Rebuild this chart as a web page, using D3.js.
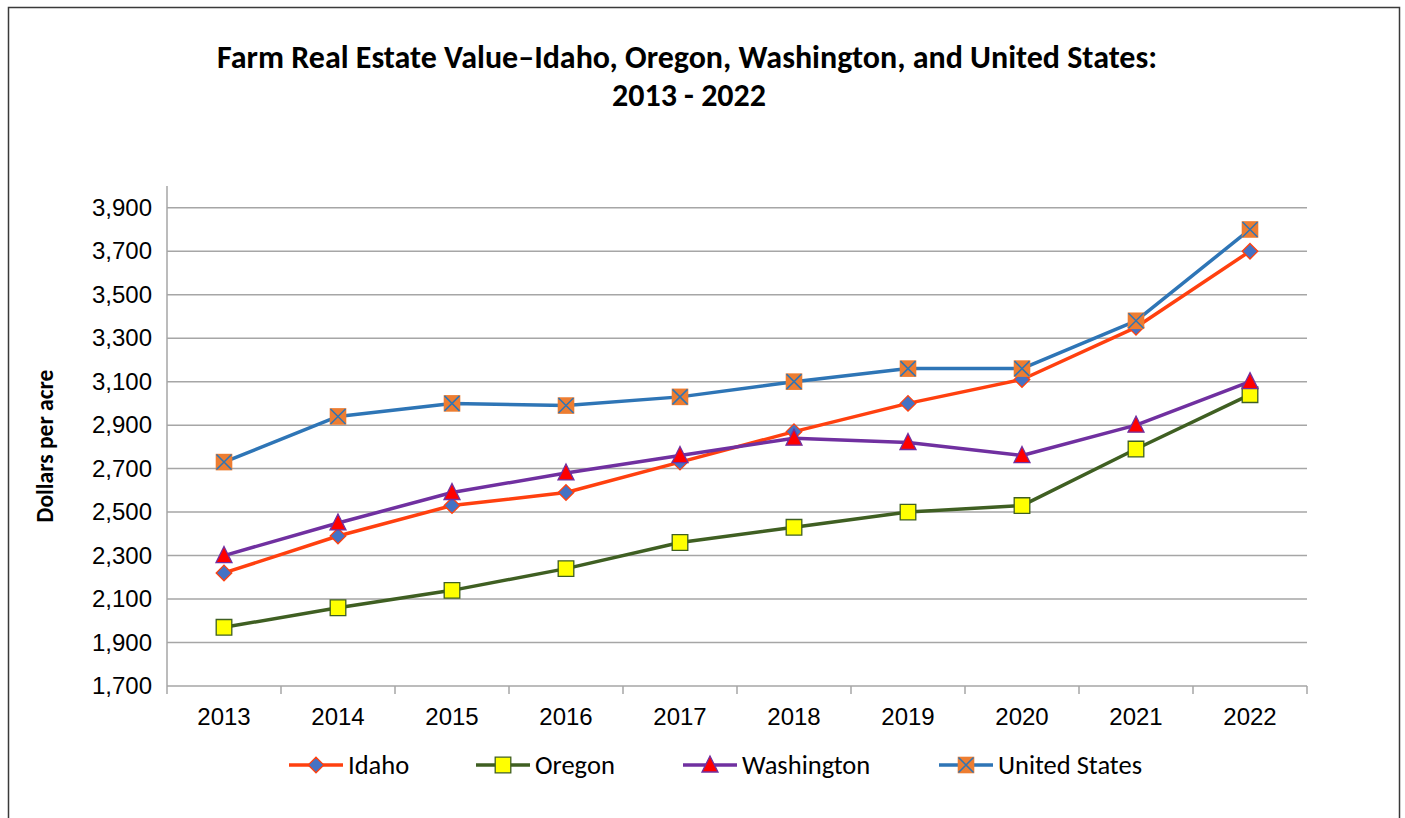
<!DOCTYPE html>
<html>
<head>
<meta charset="utf-8">
<script src="https://cdn.jsdelivr.net/npm/d3@7"></script>
<style>
    body { margin: 0; background: #fff; }
    svg { display: block; font-family: Carlito, Calibri, Lato, sans-serif; }
    .tick-text { font-size: 24px; fill: #000; }
    .title-text { font-size: 32px; font-weight: bold; }
    .label-text { font-size: 23.5px; font-weight: bold; }
    .legend-text { font-size: 26.5px; }
</style>
</head>
<body>
<script>
var years = [2013, 2014, 2015, 2016, 2017, 2018, 2019, 2020, 2021, 2022];
var idaho = [2220, 2390, 2530, 2590, 2730, 2870, 3000, 3110, 3350, 3700];
var oregon = [1970, 2060, 2140, 2240, 2360, 2430, 2500, 2530, 2790, 3040];
var washington = [2300, 2450, 2590, 2680, 2760, 2840, 2820, 2760, 2900, 3100];
var unitedStates = [2730, 2940, 3000, 2990, 3030, 3100, 3160, 3160, 3380, 3800];
var yTicks = [1700, 1900, 2100, 2300, 2500, 2700, 2900, 3100, 3300, 3500, 3700, 3900];

var seriesList = [
    {name: "Idaho", values: idaho, line: "#FF400F", marker: "diamond", fill: "#4472C4", stroke: "#FF400F"},
    {name: "Oregon", values: oregon, line: "#3F5F22", marker: "square", fill: "#FFFF00", stroke: "#3F5F22"},
    {name: "Washington", values: washington, line: "#7030A0", marker: "triangle", fill: "#FF0000", stroke: "#7030A0"},
    {name: "United States", values: unitedStates, line: "#2E75B6", marker: "xsquare", fill: "#ED7D31", stroke: "#2E75B6"}
];

var W = 1405, H = 818;
var margin = {left: 167, right: 98, top: 186, bottom: 132};
var width = W - margin.left - margin.right;
var height = H - margin.top - margin.bottom;

var svg = d3.select("body").append("svg")
    .attr("width", W)
    .attr("height", H);

// outer chart border
svg.append("rect")
    .attr("x", 8.5).attr("y", 7.5)
    .attr("width", 1391).attr("height", 840)
    .attr("fill", "none")
    .attr("stroke", "#3a3a3a")
    .attr("stroke-width", 1.5);

var g = svg.append("g")
    .attr("transform", "translate(" + margin.left + "," + margin.top + ")");

var xBand = d3.scaleBand().domain(years).range([0, width]);
function xScale(yr) { return xBand(yr) + xBand.bandwidth() / 2; }

var yScale = d3.scaleLinear().domain([1700, 4000]).range([height, 0]);

// gridlines
g.append("g")
    .selectAll("line")
    .data(yTicks.slice(1))
    .enter()
    .append("line")
    .attr("x1", 0).attr("x2", width)
    .attr("y1", function(d) { return yScale(d); })
    .attr("y2", function(d) { return yScale(d); })
    .attr("stroke", "#A6A6A6")
    .attr("stroke-width", 1.5);

// y axis
var yAxis = g.append("g")
    .call(d3.axisLeft(yScale).tickValues(yTicks).tickSize(0).tickPadding(15).tickFormat(d3.format(",")));
yAxis.select(".domain").remove();
yAxis.selectAll("text").attr("class", "tick-text").attr("font-family", null).attr("font-size", null);
g.append("line")
    .attr("x1", 0).attr("x2", 0).attr("y1", 0).attr("y2", height + 8)
    .attr("stroke", "#A6A6A6").attr("stroke-width", 1.5);

// x axis
var xAxis = g.append("g")
    .attr("transform", "translate(0," + height + ")")
    .call(d3.axisBottom(xBand).tickSize(0).tickPadding(22));
xAxis.select(".domain").remove();
xAxis.selectAll("text").attr("class", "tick-text").attr("font-family", null).attr("font-size", null);
g.append("line")
    .attr("x1", 0).attr("x2", width).attr("y1", height).attr("y2", height)
    .attr("stroke", "#A6A6A6").attr("stroke-width", 1.5);
g.append("g")
    .selectAll("line")
    .data(years)
    .enter()
    .append("line")
    .attr("x1", function(d) { return xBand(d) + xBand.bandwidth(); })
    .attr("x2", function(d) { return xBand(d) + xBand.bandwidth(); })
    .attr("y1", height).attr("y2", height + 8)
    .attr("stroke", "#A6A6A6").attr("stroke-width", 1.5);

function markerPath(type) {
    if (type === "diamond") return "M0,-7.8L7.8,0L0,7.8L-7.8,0Z";
    if (type === "square") return "M-7.8,-7.8H7.8V7.8H-7.8Z";
    if (type === "triangle") return "M0,-9L8,7H-8Z";
    return "M-8.3,-8.3H8.3V8.3H-8.3Z";
}

function drawMarker(sel, s) {
    sel.append("path")
        .attr("d", markerPath(s.marker))
        .attr("fill", s.fill)
        .attr("stroke", s.marker === "xsquare" ? "none" : s.stroke)
        .attr("stroke-width", 1.3);
    if (s.marker === "xsquare") {
        sel.append("path")
            .attr("d", "M-7.5,-7.5L7.5,7.5M7.5,-7.5L-7.5,7.5")
            .attr("stroke", s.stroke)
            .attr("stroke-width", 1.5)
            .attr("fill", "none");
    }
}

var line = d3.line()
    .x(function(d, i) { return xScale(years[i]); })
    .y(function(d) { return yScale(d); });

seriesList.forEach(function(s) {
    g.append("path")
        .attr("d", line(s.values))
        .attr("fill", "none")
        .attr("stroke", s.line)
        .attr("stroke-width", 3.5)
        .attr("stroke-linejoin", "round");
});

seriesList.forEach(function(s) {
    g.selectAll(null)
        .data(s.values)
        .enter()
        .append("g")
        .attr("transform", function(d, i) { return "translate(" + xScale(years[i]) + "," + yScale(d) + ")"; })
        .each(function() { drawMarker(d3.select(this), s); });
});

// title
svg.append("text")
    .attr("class", "title-text")
    .attr("x", 687).attr("y", 68)
    .attr("text-anchor", "middle")
    .text("Farm Real Estate Value\u2013Idaho, Oregon, Washington, and United States:");
svg.append("text")
    .attr("class", "title-text")
    .attr("x", 689).attr("y", 106)
    .attr("text-anchor", "middle")
    .text("2013 - 2022");

// y label
svg.append("text")
    .attr("class", "label-text")
    .attr("transform", "translate(53,446) rotate(-90)")
    .attr("text-anchor", "middle")
    .text("Dollars per acre");

// legend
var legendX = [289, 476, 683, 939];
var legend = svg.selectAll(".legend")
    .data(seriesList)
    .enter()
    .append("g")
    .attr("transform", function(d, i) { return "translate(" + legendX[i] + ",765)"; });
legend.append("line")
    .attr("x1", 0).attr("x2", 54)
    .attr("stroke", function(d) { return d.line; })
    .attr("stroke-width", 3.5);
legend.append("g")
    .attr("transform", "translate(27,0)")
    .each(function(d) { drawMarker(d3.select(this), d); });
legend.append("text")
    .attr("class", "legend-text")
    .attr("x", 59)
    .attr("dy", "0.35em")
    .text(function(d) { return d.name; });
</script>
</body>
</html>
